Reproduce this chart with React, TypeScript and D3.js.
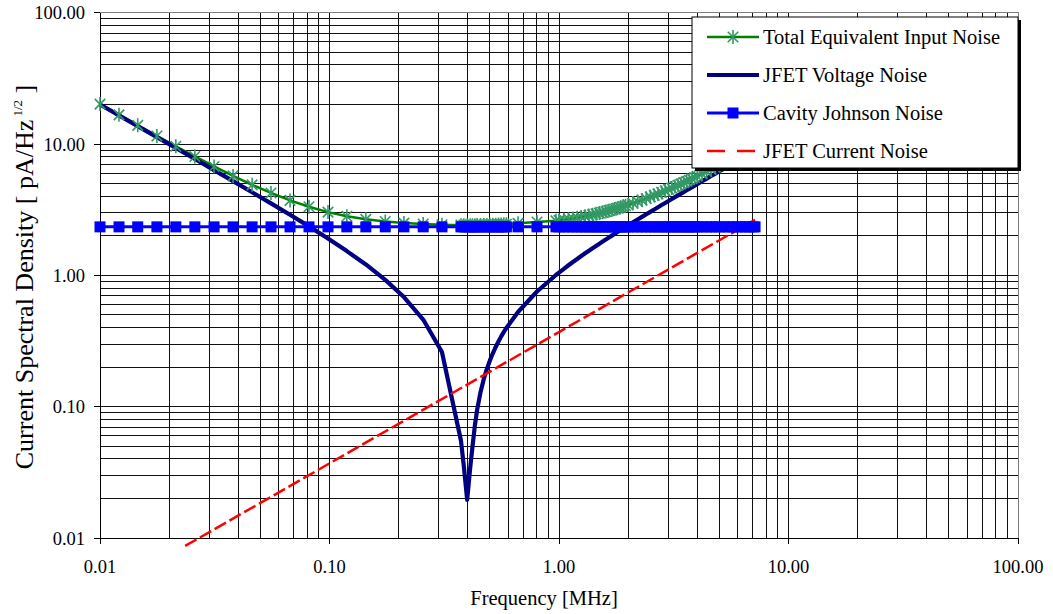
import React from "react";
import * as d3 from "d3";

const freqMHz = [
  0.01, 0.0121, 0.0146, 0.0177, 0.0214, 0.0259, 0.0314, 0.038, 0.046, 0.0556,
  0.0673, 0.0814, 0.0985, 0.119, 0.144, 0.175, 0.211, 0.256, 0.309,
  0.374, 0.385, 0.398, 0.41, 0.42, 0.43, 0.44, 0.455, 0.47, 0.485, 0.5, 0.515,
  0.53, 0.545, 0.56, 0.575, 0.59,
  0.663, 0.802,
  0.97, 1.0, 1.05, 1.1, 1.15, 1.2, 1.25, 1.3, 1.35, 1.4, 1.45, 1.5, 1.55, 1.6,
  1.65, 1.7, 1.75, 1.8, 1.85, 1.9, 1.95, 2.0, 2.1, 2.2, 2.3, 2.4, 2.5, 2.6,
  2.7, 2.8, 2.9, 3.0, 3.1, 3.2, 3.3, 3.4, 3.5, 3.6, 3.7, 3.8, 3.9, 4.0,
  4.2, 4.4, 4.6, 4.8, 5.0, 5.25, 5.5, 5.75, 6.0, 6.25, 6.5, 6.75, 7.0, 7.15,
];

const totalNoise = [
  20.13, 16.68, 13.88, 11.52, 9.61, 8.04, 6.75, 5.72, 4.89, 4.24,
  3.72, 3.33, 3.03, 2.82, 2.67, 2.57, 2.5, 2.46, 2.43,
  2.41, 2.41, 2.41, 2.41, 2.41, 2.41, 2.42, 2.42, 2.42, 2.42, 2.43, 2.43,
  2.43, 2.44, 2.44, 2.45, 2.45,
  2.49, 2.55,
  2.6, 2.62, 2.65, 2.68, 2.71, 2.75, 2.78, 2.82, 2.86, 2.9, 2.94, 2.98, 3.02, 3.06,
  3.11, 3.15, 3.2, 3.25, 3.29, 3.34, 3.39, 3.44, 3.54, 3.64, 3.74, 3.85, 3.96, 4.06,
  4.17, 4.28, 4.4, 4.51, 4.62, 4.74, 4.85, 4.97, 5.08, 5.2, 5.32, 5.44, 5.56, 5.68,
  5.92, 6.16, 6.4, 6.65, 6.89, 7.2, 7.51, 7.82, 8.14, 8.45, 8.77, 9.08, 9.4, 9.59,
];

const jfetVoltageNoise = [
  19.99, 16.51, 13.68, 11.28, 9.32, 7.69, 6.33, 5.22, 4.29, 3.53,
  2.89, 2.36, 1.91, 1.53, 1.21, 0.924, 0.684, 0.461, 0.261,
  0.055, 0.035, 0.0195, 0.034, 0.05, 0.072, 0.095, 0.129, 0.162, 0.194, 0.225,
  0.255, 0.285, 0.314, 0.343, 0.371, 0.398,
  0.526, 0.753,
  1.006, 1.05, 1.122, 1.193, 1.264, 1.333, 1.403, 1.471, 1.539, 1.607, 1.675, 1.742, 1.809, 1.875,
  1.941, 2.007, 2.073, 2.139, 2.204, 2.27, 2.335, 2.4, 2.53, 2.659, 2.788, 2.917, 3.045, 3.173,
  3.301, 3.429, 3.556, 3.683, 3.811, 3.938, 4.064, 4.191, 4.318, 4.444, 4.571, 4.697, 4.824, 4.95,
  5.202, 5.455, 5.707, 5.958, 6.21, 6.524, 6.839, 7.153, 7.467, 7.781, 8.094, 8.408, 8.721, 8.91,
];

const cavityJohnsonNoise = [
  2.34, 2.34, 2.34, 2.34, 2.34, 2.34, 2.34, 2.34, 2.34, 2.34,
  2.34, 2.34, 2.34, 2.34, 2.34, 2.34, 2.34, 2.34, 2.34, 2.34,
  2.34, 2.34, 2.34, 2.34, 2.34, 2.34, 2.34, 2.34, 2.34, 2.34,
  2.34, 2.34, 2.34, 2.34, 2.34, 2.34, 2.34, 2.34, 2.34, 2.34,
  2.34, 2.34, 2.34, 2.34, 2.34, 2.34, 2.34, 2.34, 2.34, 2.34,
  2.34, 2.34, 2.34, 2.34, 2.34, 2.34, 2.34, 2.34, 2.34, 2.34,
  2.34, 2.34, 2.34, 2.34, 2.34, 2.34, 2.34, 2.34, 2.34, 2.34,
  2.34, 2.34, 2.34, 2.34, 2.34, 2.34, 2.34, 2.34, 2.34, 2.34,
  2.34, 2.34, 2.34, 2.34, 2.34, 2.34, 2.34, 2.34, 2.34, 2.34,
  2.34, 2.34, 2.34, 2.34,
];

const currentFreqMHz = [0.0235, 0.05, 0.1, 0.2, 0.5, 1, 2, 5, 7.15];
const jfetCurrentNoise = [0.0087, 0.0185, 0.037, 0.074, 0.185, 0.37, 0.74, 1.85, 2.65];

const tickValues = [0.01, 0.1, 1, 10, 100];
const tickLabels = ["0.01", "0.10", "1.00", "10.00", "100.00"];

const legendItems = [
  "Total Equivalent Input Noise",
  "JFET Voltage Noise",
  "Cavity Johnson Noise",
  "JFET Current Noise",
];

const FONT = "'Liberation Serif', 'Times New Roman', serif";

export default function App() {
  const left = 100, right = 1018, top = 12.7, bottom = 538;
  const x = d3.scaleLog().domain([0.01, 100]).range([left, right]);
  const y = d3.scaleLog().domain([0.01, 100]).range([bottom, top]);

  const gridVals: number[] = [];
  [0.01, 0.1, 1, 10].forEach((d) => {
    for (let m = 1; m <= 9; m++) gridVals.push(d * m);
  });
  gridVals.push(100);

  const n = Math.min(freqMHz.length, totalNoise.length, jfetVoltageNoise.length, cavityJohnsonNoise.length);
  const idx = d3.range(n);
  const mk = (vals: number[]) =>
    d3.line<number>().x((i) => x(freqMHz[i])).y((i) => y(vals[i]))(idx) || "";
  const curIdx = d3.range(Math.min(currentFreqMHz.length, jfetCurrentNoise.length));
  const curPath =
    d3.line<number>().x((i) => x(currentFreqMHz[i])).y((i) => y(jfetCurrentNoise[i]))(curIdx) || "";

  const r = 7;
  const a = r * 0.75;
  const starPath = `M0,${-r}L0,${r}M${-a},${-a}L${a},${a}M${-a},${a}L${a},${-a}`;
  const sq = 11;

  const lgX = 692, lgY = 17, lgW = 326, lgH = 151;
  const rowY = [37, 75, 113, 151];
  const sx1 = 707, sx2 = 759, tx = 763;

  return (
    <svg
      width={1053}
      height={614}
      style={{ position: "absolute", left: 0, top: 0, background: "#fff" }}
      fontFamily={FONT}
    >
      <rect x={0} y={0} width={1053} height={614} fill="#fff" />
      <g shapeRendering="crispEdges">
        {gridVals.map((v, i) => (
          <line key={"gx" + i} x1={x(v)} x2={x(v)} y1={top} y2={bottom} stroke="#111" strokeWidth={1} />
        ))}
        {gridVals.map((v, i) => (
          <line key={"gy" + i} x1={left} x2={right} y1={y(v)} y2={y(v)} stroke="#111" strokeWidth={1} />
        ))}
        <rect x={left} y={top} width={right - left} height={bottom - top} fill="none" stroke="#808080" strokeWidth={1} />
        <line x1={left} x2={left} y1={top} y2={bottom} stroke="#000" />
        <line x1={left} x2={right} y1={bottom} y2={bottom} stroke="#000" />
        {tickValues.map((v, i) => (
          <line key={"ty" + i} x1={left - 6} x2={left} y1={y(v)} y2={y(v)} stroke="#000" />
        ))}
        {tickValues.map((v, i) => (
          <line key={"tx" + i} x1={x(v)} x2={x(v)} y1={bottom} y2={bottom + 6} stroke="#000" />
        ))}
      </g>
      {tickValues.map((v, i) => (
        <text key={"ly" + i} x={85} y={y(v) + 6.5} textAnchor="end" fontSize={18.5} fill="#000">
          {tickLabels[i]}
        </text>
      ))}
      {tickValues.map((v, i) => (
        <text key={"lx" + i} x={x(v)} y={573} textAnchor="middle" fontSize={18.5} fill="#000">
          {tickLabels[i]}
        </text>
      ))}
      <text x={544} y={605} textAnchor="middle" fontSize={20.5} fill="#000">
        Frequency [MHz]
      </text>
      <text transform="translate(33,277) rotate(-90)" textAnchor="middle" fontSize={26} fill="#000">
        Current Spectral Density [ pA/Hz
        <tspan fontSize={13} dy={-11}>{" 1/2"}</tspan>
        <tspan dy={11}>{" ]"}</tspan>
      </text>

      <path d={mk(totalNoise)} fill="none" stroke="#008000" strokeWidth={2.5} />
      <path d={mk(jfetVoltageNoise)} fill="none" stroke="#000080" strokeWidth={4.2} strokeLinejoin="round" />
      <path d={mk(cavityJohnsonNoise)} fill="none" stroke="#0000ff" strokeWidth={3} />
      <path d={curPath} fill="none" stroke="#ff0000" strokeWidth={2.5} strokeDasharray="13,4" />

      {idx.map((i) => (
        <path
          key={"st" + i}
          d={starPath}
          transform={`translate(${x(freqMHz[i])},${y(totalNoise[i])})`}
          stroke="#339966"
          strokeWidth={1.6}
          fill="none"
        />
      ))}
      {idx.map((i) => (
        <rect
          key={"sq" + i}
          x={x(freqMHz[i]) - sq / 2}
          y={y(cavityJohnsonNoise[i]) - sq / 2}
          width={sq}
          height={sq}
          fill="#0000ff"
        />
      ))}

      <rect x={lgX + 3} y={lgY + 3} width={lgW} height={lgH} fill="#000" />
      <rect x={lgX} y={lgY} width={lgW} height={lgH} fill="#fff" stroke="#000" strokeWidth={1} />
      <line x1={sx1} x2={sx2} y1={rowY[0]} y2={rowY[0]} stroke="#008000" strokeWidth={2.5} />
      <path d={starPath} transform={`translate(${(sx1 + sx2) / 2},${rowY[0]})`} stroke="#339966" strokeWidth={1.6} fill="none" />
      <line x1={sx1} x2={sx2} y1={rowY[1]} y2={rowY[1]} stroke="#000080" strokeWidth={4} />
      <line x1={sx1} x2={sx2} y1={rowY[2]} y2={rowY[2]} stroke="#0000ff" strokeWidth={3} />
      <rect x={(sx1 + sx2) / 2 - sq / 2} y={rowY[2] - sq / 2} width={sq} height={sq} fill="#0000ff" />
      <line x1={sx1} x2={sx2} y1={rowY[3]} y2={rowY[3]} stroke="#ff0000" strokeWidth={2.5} strokeDasharray="18,12" />
      {legendItems.map((t, i) => (
        <text key={"lg" + i} x={tx} y={rowY[i] + 7} fontSize={20.5} fill="#000">
          {t}
        </text>
      ))}
    </svg>
  );
}
